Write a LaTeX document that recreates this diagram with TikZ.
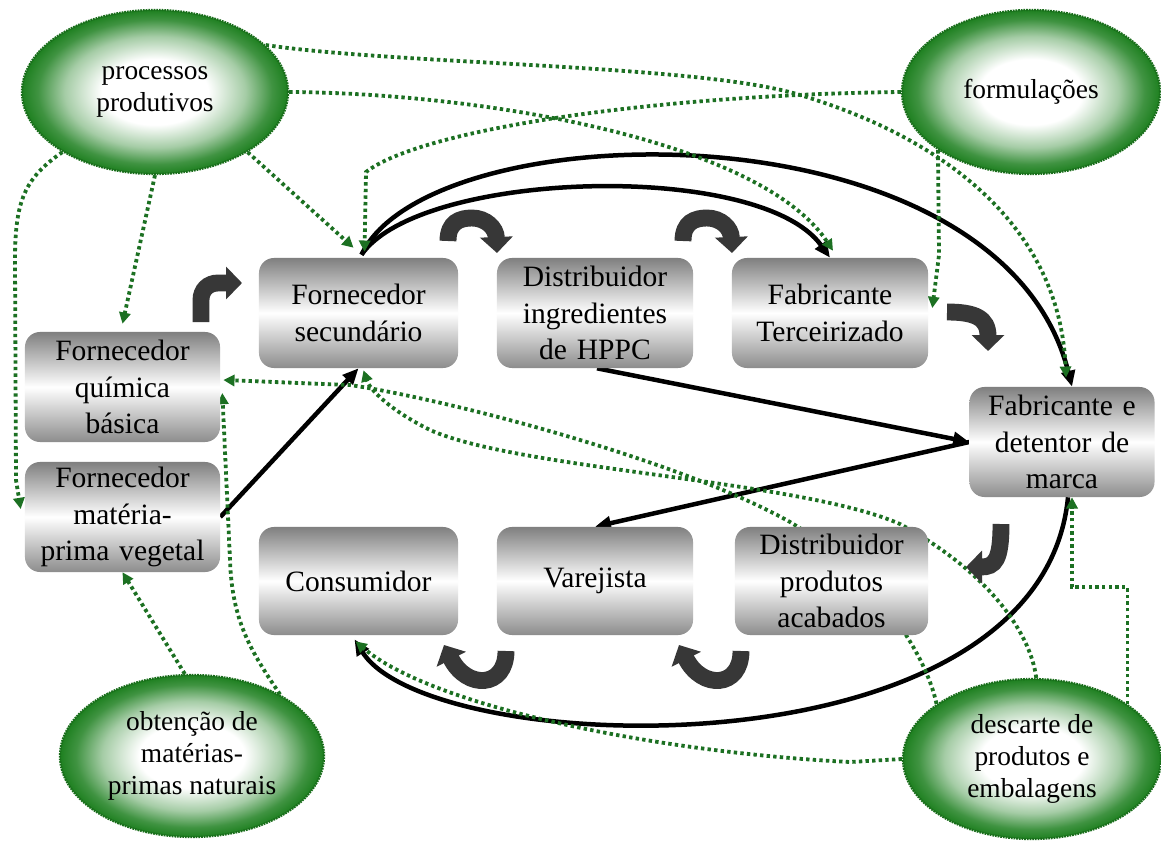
\documentclass[tikz,border=0pt]{standalone}
\usepackage{fontspec}
\setmainfont{Liberation Serif}
\usetikzlibrary{arrows.meta,calc,shapes.geometric}

\definecolor{leaf}{RGB}{30,128,32}
\definecolor{dotg}{RGB}{28,112,34}
\definecolor{arrowgray}{RGB}{55,55,55}

\pgfdeclarelayer{back}
\pgfsetlayers{back,main}

% white core fading to green towards the rim (rim of the shape at 25bp)
\pgfdeclareradialshading{greenglow}{\pgfpoint{0bp}{0bp}}{%
  color(0bp)=(white); color(10bp)=(white); color(17bp)=(leaf!40);
  color(22bp)=(leaf!85); color(25bp)=(leaf); color(50bp)=(leaf)}

\tikzset{
  stage/.style={rectangle, rounded corners=0.375cm, minimum height=2.75cm,
    text width=4.5cm, align=center, inner sep=0pt,
    top color=black!50, bottom color=black!45, middle color=white,
    font=\fontsize{21}{26}\selectfont},
  theme/.style={ellipse, shading=greenglow, draw=leaf!85!black, line width=1.6pt,
    dash pattern=on 1.2pt off 0.7pt, align=center, inner sep=0pt,
    font=\fontsize{19.5}{23}\selectfont},
  flow/.style={line width=3.2pt, -{Triangle[length=0.4cm,width=0.34cm]}},
  link/.style={dotg, line width=2.7pt, dash pattern=on 2.4pt off 2.3pt,
    -{Triangle[length=0.28cm,width=0.28cm]}},
  turn/.style={arrowgray, line width=12pt, -{Triangle[length=0.4cm,width=0.8cm]}},
}

\begin{document}
\begin{tikzpicture}[x=0.025cm, y=-0.025cm]
\useasboundingbox (0,0) rectangle (1161,841);

% supply chain stages
\node[stage, minimum width=4.875cm] (qb) at (122.5,387) {Fornecedor\\química\\básica};
\node[stage, minimum width=4.875cm] (mp) at (122.5,517) {Fornecedor\\matéria-\\prima vegetal};
\node[stage, minimum width=4.975cm] (sec) at (358.5,313) {Fornecedor\\secundário};
\node[stage, minimum width=4.9cm] (dist) at (595,313) {Distribuidor\\ingredientes\\de HPPC};
\node[stage, minimum width=4.9cm] (terc) at (830,313) {Fabricante\\Terceirizado};
\node[stage, minimum width=4.625cm] (marca) at (1062,442) {Fabricante e\\detentor de\\marca};
\node[stage, minimum width=4.975cm, minimum height=2.7cm] (cons) at (358.5,581) {Consumidor};
\node[stage, minimum width=4.9cm, minimum height=2.7cm] (var) at (595,581) {Varejista};
\node[stage, minimum width=4.825cm, minimum height=2.7cm] (dpa) at (831.5,581) {Distribuidor\\produtos\\acabados};

% environmental aspects
\node[theme, minimum width=6.65cm, minimum height=4.1cm] (pp) at (155,92) {processos\\produtivos};
\node[theme, minimum width=6.45cm, minimum height=4.1cm] (form) at (1031,92) {formulações};
\node[theme, minimum width=6.6cm, minimum height=4.05cm] (ob) at (192,756) {obtenção de\\matérias-\\primas naturais};
\node[theme, minimum width=6.45cm, minimum height=4.0cm] (dc) at (1032,759) {descarte de\\produtos e\\embalagens};

\begin{pgfonlayer}{back}
\fill[white] (0,0) rectangle (1161,841);
% material flows
\draw[flow] (mp.east) -- (sec.south);
\draw[flow] ($(sec.north)+(3,-3)$) .. controls (420,170) and (760,160) .. (terc.north);
\draw[flow] ($(sec.north)+(3,-3)$) .. controls (430,110) and (1000,100) .. ($(marca.north)+(10,0)$);
\draw[flow] ($(dist.south)+(2,0)$) -- (marca.west);
\draw[flow] (marca.west) -- (var.north);
\draw[flow] ($(marca.south)+(6,0)$) .. controls (1040,780) and (430,760) .. ($(cons.south)+(-4,4)$);

% influence of the aspects on the stages
\draw[link] (pp.213) .. controls (25,178) and (15,200) .. (15,260) -- (16,480) -- ($(mp.west)+(-4,-8)$);
\draw[link] (pp.south) -- ($(qb.north)+(0,-8)$);
\draw[link] (pp.-33) -- ($(sec.north)+(-5,-10)$);
\draw[link] (pp.23) .. controls (400,65) and (700,64) .. (800,95)
  .. controls (950,140) and (1060,230) .. ($(marca.north)+(4,-9)$);
\draw[link] (pp.east) .. controls (480,93) and (760,140) .. ($(terc.north)+(3,-7)$);
\draw[link] (form.west) .. controls (650,95) and (420,130) .. (366,172) -- ($(sec.north)+(6,-6)$);
\draw[link] (form.212) -- (939,255) -- ($(terc.east)+(4,-5)$);
\draw[link] (ob.95) -- (mp.south);
\draw[link] (ob.35) .. controls (250,650) and (232,620) .. (230,560) -- ($(qb.east)+(2,6)$);
\draw[link] (dc.150) .. controls (925,650) and (870,570) .. (790,522)
  .. controls (680,460) and (450,400) .. (350,385) -- ($(qb.east)+(3,-7)$);
\draw[link] (dc.87) .. controls (1030,630) and (985,570) .. (900,524)
  .. controls (800,480) and (520,470) .. (430,430)
  .. controls (390,410) and (370,390) .. ($(sec.south)+(5,2)$);
\draw[link] (dc.west) -- (850,762) .. controls (650,752) and (430,705) .. ($(cons.south)+(-3,6)$);
\draw[link] (dc.30) |- ($(marca.south)+(10,90)$) -- ($(marca.south)+(10,0)$);
\end{pgfonlayer}

% curved block arrows giving the sequence of the chain
\draw[turn] (201,322) -- (201,300) .. controls (201,290) and (208,283) .. (218,283) -- (242,283);
\draw[turn] (448,241) .. controls (448,222) and (460,218) .. (472,218) .. controls (486,218) and (496,228) .. (497,253);
\draw[turn] (683,241) .. controls (683,222) and (695,218) .. (707,218) .. controls (721,218) and (731,228) .. (732,253);
\draw[turn] (947,312) .. controls (975,312) and (988,318) .. (988,351);
\draw[turn] (1001,524) .. controls (1001,560) and (995,567) .. (966,567);
\draw[turn] (741,651) .. controls (741,688) and (702,690) .. (679,645);
\draw[turn] (506,651) .. controls (506,688) and (467,690) .. (444,645);
\end{tikzpicture}
\end{document}
